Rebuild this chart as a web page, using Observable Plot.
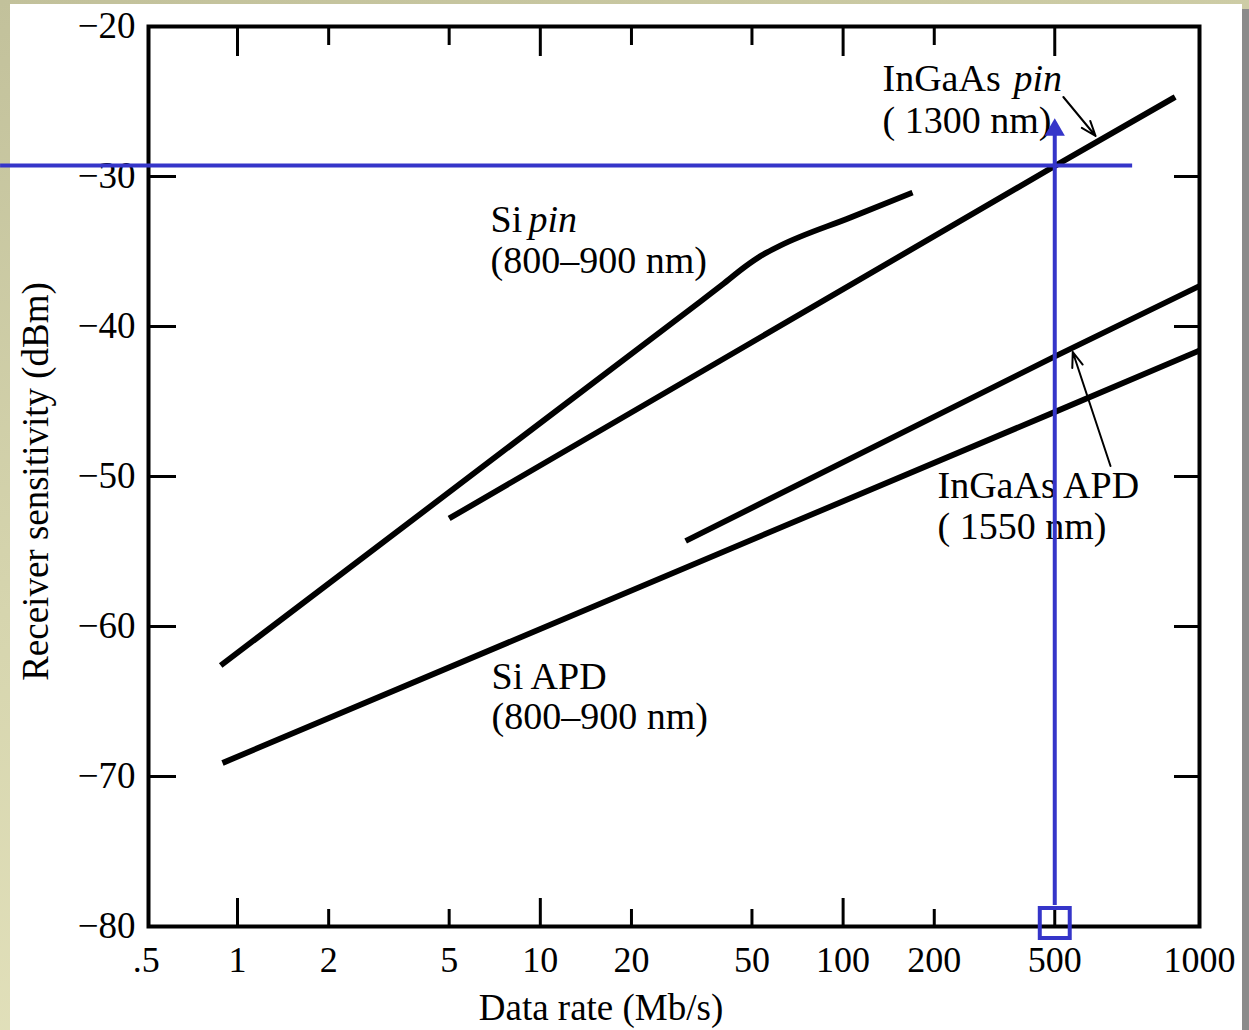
<!DOCTYPE html>
<html><head><meta charset="utf-8">
<script src="https://cdn.jsdelivr.net/npm/d3@7"></script>
<script src="https://cdn.jsdelivr.net/npm/@observablehq/plot@0.6"></script>
<style>
html,body{margin:0;padding:0;}
body{width:1249px;height:1030px;position:relative;overflow:hidden;background:linear-gradient(165deg,#c2c19b 0%,#d6d5ae 45%,#e9e7c2 100%);}
#paper{position:absolute;left:10px;top:4px;width:1232px;height:1026px;background:#fff;}
#edge{position:absolute;left:1242px;top:9px;width:7px;height:1021px;background:#8b8b8b;}
#chart{position:absolute;left:0;top:0;}
</style></head><body>
<div id="paper"></div><div id="edge"></div><div id="chart"></div>
<script>
// ---- data (Mb/s, dBm) ----
const siPinRate = [0.88, 33.8, 39.97, 47.6, 53.4, 62.1, 105.8, 169.5];
const siPinSens = [-62.6, -38.33, -37.2, -35.99, -35.3, -34.6, -32.73, -31.07];
const ingaasPinRate = [5, 500, 890];
const ingaasPinSens = [-52.8, -29.3, -24.7];
const ingaasApdRate = [30.2, 500, 1000];
const ingaasApdSens = [-54.3, -42.0, -37.3];
const siApdRate = [0.892, 500, 1000];
const siApdSens = [-69.1, -45.7, -41.6];

const xTicks = [0.5, 1, 2, 5, 10, 20, 50, 100, 200, 500, 1000];
const xTickLabels = [".5", "1", "2", "5", "10", "20", "50", "100", "200", "500", "1000"];
const xMajorBottom = [1, 10, 100];
const xMinorBottom = [2, 5, 20, 50, 200, 500];
const xMajorTop = [1, 10, 100, 500];
const xMinorTop = [2, 5, 20, 50, 200];
const yTicks = [-20, -30, -40, -50, -60, -70, -80];
const yInnerTicks = [-30, -40, -50, -60, -70];

const labelText = ["Si", "pin", "(800–900 nm)", "InGaAs", "pin", "( 1300 nm)", "InGaAs APD", "( 1550 nm)", "Si APD", "(800–900 nm)"];
const labelRate = [6.85, 9.14, 6.85, 134.9, 365.4, 134.9, 205, 205, 6.9, 6.9];
const labelSens = [-32.87, -32.87, -35.6, -23.47, -23.47, -26.27, -50.6, -53.33, -63.33, -66.0];
const labelItalic = [false, true, false, false, true, false, false, false, false, false];

const arrowRate1 = [521, 653];
const arrowSens1 = [-24.7, -49.3];
const arrowRate2 = [608, 545];
const arrowSens2 = [-27.3, -41.7];

// blue overlay: reading at 500 Mb/s
const markRate = 500;
const markSens = -29.27;
const markLineRate = [0.165, 726];
const markArrowSens = [-78.6, -26.9];
const markBoxSens = -79.77;

// ---- build ----
const series = [
  [siPinRate, siPinSens],
  [ingaasPinRate, ingaasPinSens],
  [ingaasApdRate, ingaasApdSens],
  [siApdRate, siApdSens]
].map(([r, s], k) => r.map((v, i) => ({k, rate: v, sens: s[i]})));

const labels = labelText.map((t, i) => ({text: t, rate: labelRate[i], sens: labelSens[i], italic: labelItalic[i]}));
const arrows = arrowRate1.map((v, i) => ({x1: v, y1: arrowSens1[i], x2: arrowRate2[i], y2: arrowSens2[i]}));

const LOG500 = Math.log10(500);
const K = 1.588; // the original's last segment (500–1000) is stretched
const fx = v => { const l = Math.log10(v); return l <= LOG500 ? l : LOG500 + (l - LOG500) * K; };

const W = 1249, H = 1030, mL = 148, mR = 50, mT = 26, mB = 104;
const PW = W - mL - mR, PH = H - mT - mB;
const blue = "#3535c9";

const chart = Plot.plot({
  width: W, height: H,
  marginLeft: mL, marginRight: mR, marginTop: mT, marginBottom: mB,
  style: {fontFamily: "'Liberation Serif', 'Times New Roman', serif", fontSize: "36px", background: "transparent", overflow: "visible", color: "black"},
  x: {type: "linear", transform: fx, domain: [-0.294, 3.177]},
  y: {domain: [-80, -20]},
  marks: [
    Plot.frame({stroke: "black", strokeWidth: 4}),
    // inward ticks
    Plot.ruleX(xMajorBottom, {insetTop: PH - 28, strokeWidth: 3}),
    Plot.ruleX(xMinorBottom, {insetTop: PH - 17, strokeWidth: 3}),
    Plot.ruleX(xMajorTop, {insetBottom: PH - 30, strokeWidth: 3}),
    Plot.ruleX(xMinorTop, {insetBottom: PH - 19, strokeWidth: 3}),
    Plot.ruleY(yInnerTicks, {insetRight: PW - 28, strokeWidth: 3}),
    Plot.ruleY(yInnerTicks, {insetLeft: PW - 25, strokeWidth: 3}),
    // tick labels
    Plot.axisX(xTicks, {anchor: "bottom", tickSize: 0, tickPadding: 20, label: null, fontSize: 36,
      tickFormat: d => xTickLabels[xTicks.indexOf(d)]}),
    Plot.axisY(yTicks, {anchor: "left", tickSize: 0, tickPadding: 13, label: null, fontSize: 37,
      tickFormat: d => "\u2212" + Math.abs(d)}),
    // axis titles
    Plot.text(["Data rate (Mb/s)"], {frameAnchor: "bottom", textAnchor: "middle", dx: -73, dy: 82, lineAnchor: "middle", fontSize: 37}),
    Plot.text(["Receiver sensitivity (dBm)"], {frameAnchor: "left", textAnchor: "middle", rotate: -90, dx: -112, dy: 5, lineAnchor: "middle", fontSize: 37}),
    // curves
    ...series.map(s => Plot.line(s, {x: "rate", y: "sens", stroke: "black", strokeWidth: 5.8, curve: "monotone-x", strokeLinecap: "butt"})),
    // annotations
    Plot.text(labels.filter(d => !d.italic), {x: "rate", y: "sens", text: "text", textAnchor: "start", lineAnchor: "middle", fontSize: 38}),
    Plot.text(labels.filter(d => d.italic), {x: "rate", y: "sens", text: "text", textAnchor: "start", lineAnchor: "middle", fontSize: 38, fontStyle: "italic"}),
    Plot.arrow(arrows, {x1: "x1", y1: "y1", x2: "x2", y2: "y2", stroke: "black", strokeWidth: 2, headLength: 12, headAngle: 40}),
    // blue overlay
    Plot.ruleY([markSens], {x1: markLineRate[0], x2: markLineRate[1], stroke: blue, strokeWidth: 4}),
    Plot.ruleX([markRate], {y1: markArrowSens[0], y2: markArrowSens[1], stroke: blue, strokeWidth: 4}),
    Plot.dot([markRate], {x: d => d, y: markArrowSens[1], symbol: "triangle", r: 7.5, fill: blue, stroke: "none"}),
    Plot.dot([markRate], {x: d => d, y: markBoxSens, symbol: "square", r: 16.9, fill: "none", stroke: blue, strokeWidth: 4})
  ]
});
document.getElementById("chart").appendChild(chart);
</script></body></html>
